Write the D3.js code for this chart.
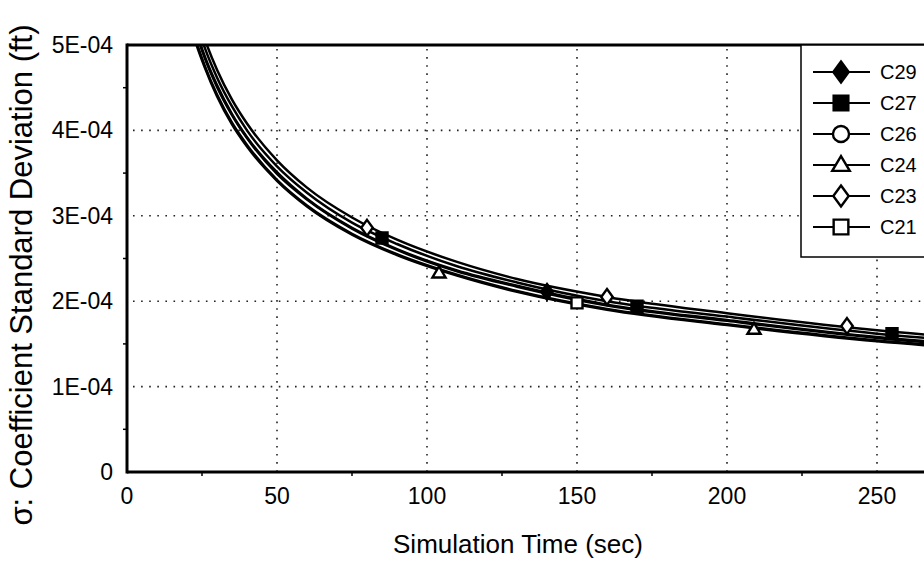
<!DOCTYPE html>
<html>
<head>
<meta charset="utf-8">
<script src="https://cdn.jsdelivr.net/npm/d3@7"></script>
<style>
  body { margin: 0; background: #fff; }
  svg { display: block; font-family: "Liberation Sans", Arial, sans-serif; }
</style>
</head>
<body>
<div id="chart"></div>
<script>
// --- data (sigma in units of 1E-04 ft) ---
const times = [20, 23, 26, 30, 35, 40, 50, 60, 75, 90, 110, 130, 160, 200, 250, 300];

const seriesNames = ["C29", "C27", "C26", "C24", "C23", "C21"];
const seriesShapes = ["diamond", "square", "circle", "triangle", "diamond", "square"];
const seriesFilled = [true, true, false, false, false, false];

const sigmaC29 = [5.55, 5.17, 4.86, 4.53, 4.19, 3.92, 3.51, 3.20, 2.86, 2.61, 2.36, 2.18, 1.96, 1.78, 1.58, 1.45];
const sigmaC27 = [5.66, 5.28, 4.96, 4.62, 4.28, 4.00, 3.58, 3.27, 2.92, 2.67, 2.41, 2.22, 2.00, 1.82, 1.62, 1.48];
const sigmaC26 = [5.52, 5.15, 4.84, 4.51, 4.18, 3.91, 3.49, 3.19, 2.85, 2.60, 2.35, 2.17, 1.95, 1.77, 1.57, 1.44];
const sigmaC24 = [5.39, 5.02, 4.73, 4.40, 4.07, 3.81, 3.41, 3.11, 2.78, 2.54, 2.30, 2.11, 1.90, 1.72, 1.53, 1.40];
const sigmaC23 = [5.77, 5.38, 5.06, 4.71, 4.36, 4.08, 3.65, 3.33, 2.98, 2.72, 2.46, 2.26, 2.05, 1.86, 1.66, 1.52];
const sigmaC21 = [5.41, 5.05, 4.75, 4.42, 4.09, 3.83, 3.42, 3.12, 2.79, 2.55, 2.31, 2.12, 1.91, 1.73, 1.54, 1.41];

// marker positions along each curve [time, sigma]
const markersC29 = [[140, 2.11]];
const markersC27 = [[85, 2.74], [170, 1.94], [255, 1.62]];
const markersC26 = [];
const markersC24 = [[104, 2.33], [209, 1.67]];
const markersC23 = [[80, 2.86], [160, 2.05], [240, 1.71]];
const markersC21 = [[150, 1.98]];

const xTicks = [0, 50, 100, 150, 200, 250];
const yTicks = [0, 1, 2, 3, 4, 5];
const yTickLabels = ["0", "1E-04", "2E-04", "3E-04", "4E-04", "5E-04"];

const allSigma = [sigmaC29, sigmaC27, sigmaC26, sigmaC24, sigmaC23, sigmaC21];
const allMarkers = [markersC29, markersC27, markersC26, markersC24, markersC23, markersC21];

// --- setup ---
const width = 924, height = 563;
const plotLeft = 127, plotTop = 45, plotBottom = 472, plotRight = 1027;

const svg = d3.select("#chart").append("svg").attr("width", width).attr("height", height);
svg.append("rect").attr("width", width).attr("height", height).attr("fill", "#fff");

const x = d3.scaleLinear().domain([0, 300]).range([plotLeft, plotRight]);
const y = d3.scaleLinear().domain([0, 5]).range([plotBottom, plotTop]);

svg.append("clipPath").attr("id", "plot-clip")
  .append("rect").attr("x", plotLeft).attr("y", plotTop)
  .attr("width", plotRight - plotLeft).attr("height", plotBottom - plotTop);

// gridlines (sparse dots)
const grid = svg.append("g").attr("stroke", "#222").attr("stroke-width", 1.6).attr("stroke-dasharray", "1.6,6.5");
grid.selectAll("line.h").data(yTicks.slice(1, 5)).join("line")
  .attr("x1", plotLeft + 6).attr("x2", plotRight)
  .attr("y1", d => y(d)).attr("y2", d => y(d));
grid.selectAll("line.v").data(xTicks.slice(1)).join("line")
  .attr("y1", plotTop + 4).attr("y2", plotBottom)
  .attr("x1", d => x(d)).attr("x2", d => x(d));

// small ticks
const minorY = d3.range(0.5, 5, 1);
svg.append("g").selectAll("line").data(minorY).join("line")
  .attr("x1", plotLeft - 4).attr("x2", plotLeft)
  .attr("y1", d => y(d)).attr("y2", d => y(d))
  .attr("stroke", "#000").attr("stroke-width", 1.5);
const minorX = d3.range(25, 300, 50);
svg.append("g").selectAll("line").data(minorX).join("line")
  .attr("x1", d => x(d)).attr("x2", d => x(d))
  .attr("y1", plotBottom).attr("y2", plotBottom + 4)
  .attr("stroke", "#000").attr("stroke-width", 1.5);

// curves
const line = d3.line().x(d => x(d[0])).y(d => y(d[1])).curve(d3.curveMonotoneX);
const curves = svg.append("g").attr("clip-path", "url(#plot-clip)");
allSigma.forEach(vals => {
  curves.append("path")
    .datum(times.map((t, i) => [t, vals[i]]))
    .attr("d", line)
    .attr("fill", "none").attr("stroke", "#000").attr("stroke-width", 2.5);
});

// marker shapes
function markerPath(shape, w, h) {
  const p = d3.path();
  if (shape === "diamond") {
    p.moveTo(0, -h / 2); p.lineTo(w / 2, 0); p.lineTo(0, h / 2); p.lineTo(-w / 2, 0); p.closePath();
  } else if (shape === "square") {
    p.rect(-w / 2, -h / 2, w, h);
  } else if (shape === "circle") {
    p.moveTo(w / 2, 0); p.arc(0, 0, w / 2, 0, 2 * Math.PI);
  } else if (shape === "triangle") {
    p.moveTo(0, -h * 0.6); p.lineTo(w / 2, h * 0.4); p.lineTo(-w / 2, h * 0.4); p.closePath();
  }
  return p.toString();
}
function markerSize(shape, scale) {
  const base = { diamond: [11, 15], square: [10.5, 10.5], circle: [11.5, 11.5], triangle: [12.5, 10.5] }[shape];
  return base.map(v => v * scale);
}

const markerLayer = svg.append("g").attr("clip-path", "url(#plot-clip)");
allMarkers.forEach((pts, i) => {
  const shape = seriesShapes[i];
  const [w, h] = markerSize(shape, 1.05);
  markerLayer.selectAll(null).data(pts).join("path")
    .attr("transform", d => `translate(${x(d[0])},${y(d[1])})`)
    .attr("d", markerPath(shape, w, h))
    .attr("fill", seriesFilled[i] ? "#000" : "#fff")
    .attr("stroke", "#000").attr("stroke-width", 2.4);
});

// frame
svg.append("line").attr("x1", plotLeft).attr("x2", plotRight).attr("y1", plotTop).attr("y2", plotTop)
  .attr("stroke", "#000").attr("stroke-width", 3);
svg.append("line").attr("x1", plotLeft).attr("x2", plotRight).attr("y1", plotBottom).attr("y2", plotBottom)
  .attr("stroke", "#000").attr("stroke-width", 3);
svg.append("line").attr("x1", plotLeft).attr("x2", plotLeft).attr("y1", plotTop - 1.5).attr("y2", plotBottom + 1.5)
  .attr("stroke", "#000").attr("stroke-width", 3);

// tick labels
svg.append("g").selectAll("text").data(yTicks).join("text")
  .attr("x", plotLeft - 14).attr("y", d => y(d) + 8)
  .attr("text-anchor", "end").attr("font-size", 23)
  .text((d, i) => yTickLabels[i]);
svg.append("g").selectAll("text").data(xTicks).join("text")
  .attr("x", d => x(d)).attr("y", plotBottom + 32)
  .attr("text-anchor", "middle").attr("font-size", 23)
  .text(d => d);

// axis titles
svg.append("text").attr("x", 518).attr("y", 553)
  .attr("text-anchor", "middle").attr("font-size", 26)
  .text("Simulation Time (sec)");
svg.append("text")
  .attr("transform", "translate(32,275) rotate(-90)")
  .attr("text-anchor", "middle").attr("font-size", 31)
  .text("σ: Coefficient Standard Deviation (ft)");

// legend
const legend = svg.append("g");
legend.append("rect").attr("x", 801).attr("y", plotTop).attr("width", 200).attr("height", 212)
  .attr("fill", "#fff").attr("stroke", "#000").attr("stroke-width", 1.5);
seriesNames.forEach((name, i) => {
  const ly = 72 + i * 31;
  const shape = seriesShapes[i];
  legend.append("line").attr("x1", 813).attr("x2", 870).attr("y1", ly).attr("y2", ly)
    .attr("stroke", "#000").attr("stroke-width", 2);
  const [w, h] = markerSize(shape, 1.4);
  legend.append("path").attr("transform", `translate(841,${ly})`)
    .attr("d", markerPath(shape, w, h))
    .attr("fill", seriesFilled[i] ? "#000" : "#fff")
    .attr("stroke", "#000").attr("stroke-width", 2.4);
  legend.append("text").attr("x", 880).attr("y", ly + 7)
    .attr("font-size", 20).text(name);
});
</script>
</body>
</html>
